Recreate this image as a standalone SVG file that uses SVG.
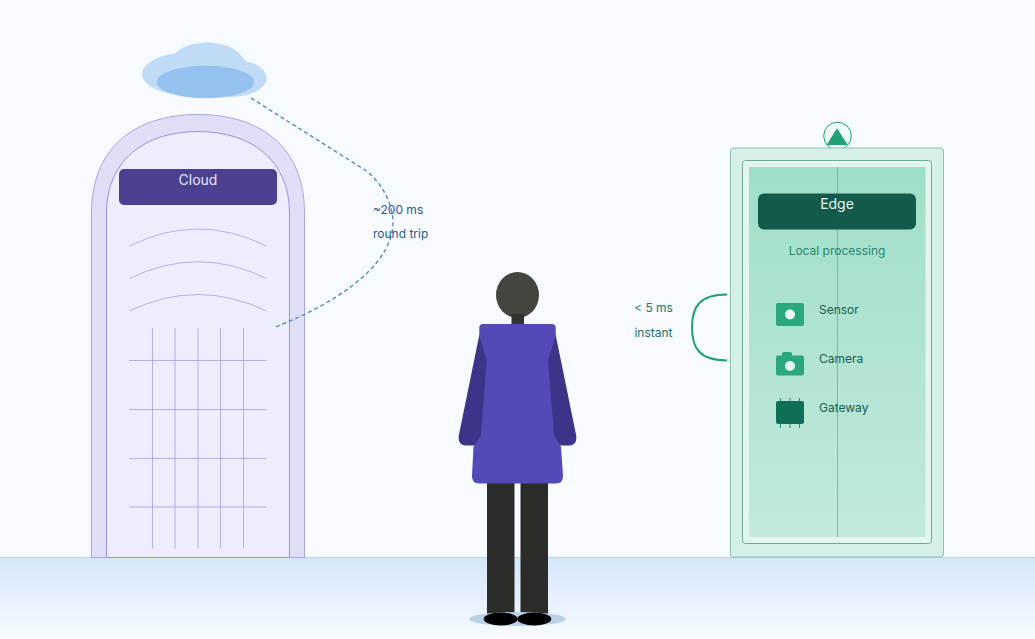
<svg xmlns="http://www.w3.org/2000/svg" width="1035" height="639" viewBox="0 0 1035 639">
  <style>
    text { font-family: Inter, "Noto Sans", "Liberation Sans", sans-serif; }
    .mid { text-anchor: middle; }
    .fine { stroke: #9088d8; stroke-width: 1; fill: none; opacity: .6; }
    .label { font-size: 12px; fill: #17604e; }
    .blue { font-size: 12px; fill: #2a5a8c; }
    .green { font-size: 12px; fill: #1b7560; }
    .puff { fill: #bfdbf6; }
    .pin { stroke: #0f6e56; stroke-width: 1; opacity: .8; }
    .lens { fill: #e4f7f0; }
    .chip { fill: #2aa87c; }
  </style>
  <defs>
    <linearGradient id="ground" x1="0" y1="0" x2="0" y2="1">
      <stop offset="0" stop-color="#d5e6f9"/>
      <stop offset="1" stop-color="#f7faff"/>
    </linearGradient>
    <linearGradient id="screen" x1="0" y1="0" x2="0" y2="1">
      <stop offset="0" stop-color="#9fdfc8"/>
      <stop offset="1" stop-color="#c2e9dc"/>
    </linearGradient>
  </defs>

  <rect width="1035" height="639" fill="#f7faff"/>
  <g id="ground-plane">
    <rect y="557" width="1035" height="82" fill="url(#ground)"/>
    <line x1="0" x2="1035" y1="557.500" y2="557.500" stroke="#b8cfe8"/>
  </g>

  <g id="cloud-icon">
    <ellipse class="puff" cx="185" cy="74" rx="43" ry="21"/>
    <ellipse class="puff" cx="207" cy="67" rx="39" ry="24.500"/>
    <ellipse class="puff" cx="230" cy="78" rx="36.700" ry="19"/>
    <ellipse cx="205.500" cy="82" rx="48.700" ry="16.300" fill="#94c1ee"/>
  </g>

  <g id="cloud-tower">
    <path d="M91.500 557.500V213C91.500 145 138 114.500 198 114.500S304.500 145 304.500 213V557.500Z" fill="#e0dff8" stroke="#aaa4e4"/>
    <path d="M106.500 557.500V213C106.500 160 145 131.500 198 131.500S289.500 160 289.500 213V557.500Z" fill="#eeedfd" stroke="#9a92dc"/>
    <rect x="119" y="169" width="158" height="36" rx="5" fill="#4a4290"/>
    <text class="mid" x="198" y="185" font-size="14" fill="#e8e6fb">Cloud</text>
    <path class="fine" d="M129.500 246Q198 212 266.500 246M129.500 278.500Q198 245 266.500 278.500M129.500 311Q198 278 266.500 311"/>
    <path class="fine" d="M152.500 328V548.500M175 328V548.500M198 328V548.500M220.500 328V548.500M243.500 328V548.500M129 360.500H266.500M129 409.500H266.500M129 458.500H266.500M129 507H266.500"/>
  </g>

  <g id="connectors">
    <path d="M251 98L365 170C382 182 393 205 393 222C393 268 330 306 274 327.500" fill="none" stroke="#4a80bc" stroke-width="1.300" stroke-dasharray="4 3"/>
    <path d="M727 294.500C700 294.500 692 306 692 327.500S700 360.500 727 360.500" fill="none" stroke="#1fa078" stroke-width="2"/>
  </g>

  <g id="latency-cloud">
    <text class="blue" x="373" y="214">~200 ms</text>
    <text class="blue" x="373" y="238">round trip</text>
  </g>
  <g id="latency-edge">
    <text class="green mid" x="653.500" y="312">&lt; 5 ms</text>
    <text class="green mid" x="653.500" y="337">instant</text>
  </g>

  <g id="person">
    <ellipse cx="517.500" cy="295" rx="21.500" ry="23" fill="#454540"/>
    <rect x="511.500" y="314" width="12.500" height="12" fill="#33332f"/>
    <rect x="487" y="480" width="27.500" height="136" fill="#2c2c2a"/>
    <rect x="520.500" y="480" width="27.500" height="136" fill="#2c2c2a"/>
    <ellipse cx="517.500" cy="619" rx="48.500" ry="7" fill="#b9d1e8"/>
    <ellipse cx="500.700" cy="619" rx="17" ry="6.500" fill="#000"/>
    <ellipse cx="534.300" cy="619" rx="17" ry="6.500" fill="#000"/>
    <path d="M479.500 334L458.700 436Q458 445 465 445.500H484L500 400ZM555.500 334L576.300 436Q577 445 570 445.500H551L535 400Z" fill="#3c3489"/>
    <path d="M479.300 328Q479.300 324 483 324H552Q555.700 324 555.700 328V336L548 360L554 435L561 447L563 476Q563 483.500 556 483.500H479Q472 483.500 472 476L473.500 447L481 435L486.700 360L479.300 336Z" fill="#534ab7"/>
  </g>

  <g id="edge-device">
    <circle cx="837.500" cy="136" r="13.800" fill="#f0faf7" stroke="#1fa078" stroke-width="1"/>
    <polygon points="837,128.300 847.800,145 826.700,145" fill="#1fa078"/>
    <rect x="730.500" y="148" width="213" height="409" rx="3" fill="#d4f0e8" stroke="#8fc4b0"/>
    <rect x="742.500" y="160.500" width="189" height="383" rx="3" fill="#e2f5ef" stroke="#6faa96"/>
    <rect x="749" y="167" width="176.500" height="370" fill="url(#screen)"/>
    <rect x="758" y="193.500" width="158" height="36" rx="6" fill="#145a4b"/>
    <line x1="837.500" x2="837.500" y1="167" y2="537" stroke="#0f6e56" opacity=".35"/>
    <text class="mid" x="837" y="209" font-size="14" fill="#e4f7f0">Edge</text>
    <text class="mid" x="837" y="255" font-size="12" fill="#2a8570">Local processing</text>
  </g>

  <g id="sensor">
    <rect class="chip" x="776" y="303" width="28" height="23" rx="2"/>
    <circle class="lens" cx="790" cy="314.500" r="5"/>
    <text class="label" x="819" y="314">Sensor</text>
  </g>
  <g id="camera">
    <rect class="chip" x="776" y="355.500" width="28" height="20" rx="2"/>
    <rect class="chip" x="782" y="352" width="10" height="6" rx="2"/>
    <circle class="lens" cx="790" cy="366" r="5"/>
    <text class="label" x="819" y="363">Camera</text>
  </g>
  <g id="gateway">
    <path class="pin" d="M780.500 398V428M790 398V428M799.500 398V428"/>
    <rect x="776" y="401" width="28" height="23" rx="2" fill="#0f6e56"/>
    <text class="label" x="819" y="412">Gateway</text>
  </g>
</svg>
